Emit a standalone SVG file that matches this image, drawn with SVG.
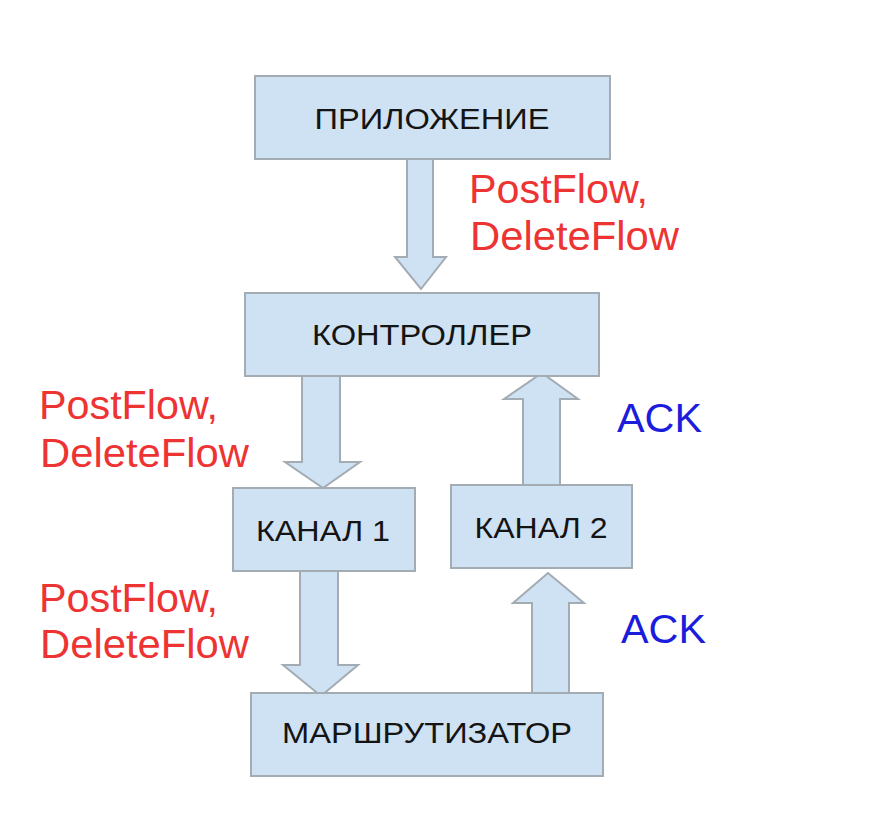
<svg xmlns="http://www.w3.org/2000/svg" width="888" height="813" viewBox="0 0 888 813">
<style>
.box{fill:#cfe2f3;stroke:#a3abb3;stroke-width:2}
.arr{fill:#cfe2f3;stroke:#a3abb3;stroke-width:2;stroke-linejoin:miter}
.t{font-family:"Liberation Sans",Arial,sans-serif;font-size:29px;fill:#141414;text-anchor:middle}
.red{font-family:"Liberation Sans",Arial,sans-serif;font-size:40px;fill:#ee3333}
.blue{font-family:"Liberation Sans",Arial,sans-serif;font-size:41px;fill:#1c1cdc}
</style>
<rect width="888" height="813" fill="#ffffff"/>
<g id="connectors">
<polygon class="arr" points="407,159 433,159 433,257 446,257 421,289 395,257 407,257"/>
<polygon class="arr" points="302,376 340,376 340,462 360,462 323,488 285,462 302,462"/>
<polygon class="arr" points="523,485 560,485 560,399 578,399 542,373 504,399 523,399"/>
<polygon class="arr" points="300,571 338,571 338,665 358,665 321,696 283,665 300,665"/>
<polygon class="arr" points="532,693 569,693 569,603 584,603 548,573 513,603 532,603"/>
</g>
<g id="app"><rect class="box" x="255" y="76" width="355" height="83"/><text class="t" x="432" y="129" textLength="235" lengthAdjust="spacingAndGlyphs">ПРИЛОЖЕНИЕ</text></g>
<g id="controller"><rect class="box" x="245" y="293" width="354" height="83"/><text class="t" x="422" y="345" textLength="220" lengthAdjust="spacingAndGlyphs">КОНТРОЛЛЕР</text></g>
<g id="channel1"><rect class="box" x="233" y="488" width="182" height="83"/><text class="t" x="323" y="541" textLength="134" lengthAdjust="spacingAndGlyphs">КАНАЛ 1</text></g>
<g id="channel2"><rect class="box" x="451" y="485" width="181" height="83"/><text class="t" x="541" y="538" textLength="133" lengthAdjust="spacingAndGlyphs">КАНАЛ 2</text></g>
<g id="router"><rect class="box" x="251" y="693" width="352" height="83"/><text class="t" x="427" y="743" textLength="290" lengthAdjust="spacingAndGlyphs">МАРШРУТИЗАТОР</text></g>
<g id="labels">
<text class="red" x="469" y="203" textLength="179" lengthAdjust="spacingAndGlyphs">PostFlow,</text>
<text class="red" x="470" y="250" textLength="209" lengthAdjust="spacingAndGlyphs">DeleteFlow</text>
<text class="red" x="39" y="419" textLength="179" lengthAdjust="spacingAndGlyphs">PostFlow,</text>
<text class="red" x="40" y="467" textLength="209" lengthAdjust="spacingAndGlyphs">DeleteFlow</text>
<text class="red" x="39" y="612" textLength="179" lengthAdjust="spacingAndGlyphs">PostFlow,</text>
<text class="red" x="40" y="658" textLength="209" lengthAdjust="spacingAndGlyphs">DeleteFlow</text>
<text class="blue" x="617" y="432" textLength="85" lengthAdjust="spacingAndGlyphs">ACK</text>
<text class="blue" x="621" y="643" textLength="85" lengthAdjust="spacingAndGlyphs">ACK</text>
</g>
</svg>
